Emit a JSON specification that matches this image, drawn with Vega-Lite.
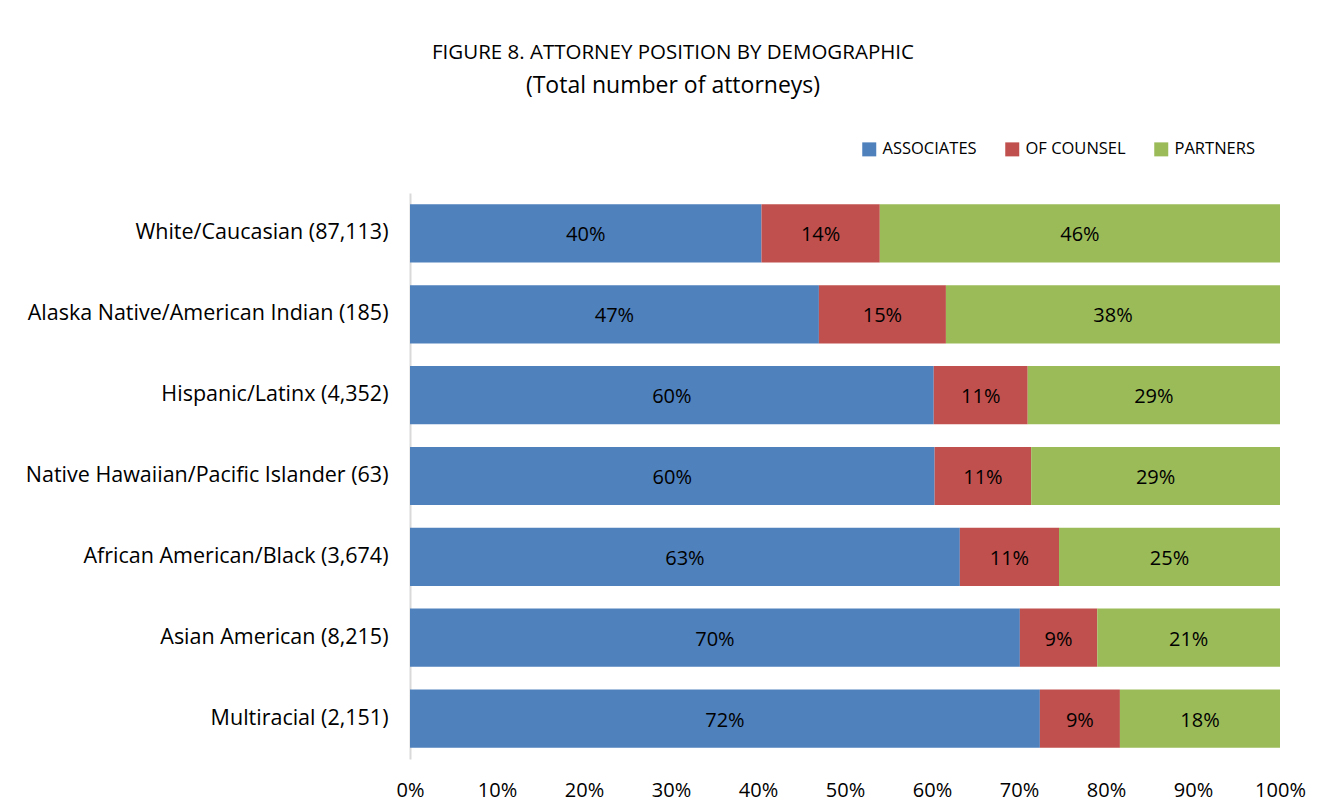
{
  "$schema": "https://vega.github.io/schema/vega-lite/v6.json",
  "width": 870,
  "height": 566,
  "autosize": {"type": "none"},
  "padding": {"left": 410, "top": 193, "right": 45, "bottom": 52},
  "background": "white",
  "title": {
    "text": "FIGURE 8. ATTORNEY POSITION BY DEMOGRAPHIC",
    "subtitle": "(Total number of attorneys)",
    "anchor": "middle",
    "dx": -172,
    "offset": 43,
    "font": "Open Sans",
    "fontSize": 20.5,
    "fontWeight": "normal",
    "color": "black",
    "subtitleFont": "Open Sans",
    "subtitleFontSize": 23,
    "subtitleColor": "black",
    "subtitlePadding": 12
  },
  "config": {
    "view": {"stroke": null},
    "font": "Open Sans",
    "legend": {"labelFont": "Open Sans"},
    "axis": {"labelFont": "Open Sans"}
  },
  "data": {
    "values": [
      {"group": "White/Caucasian (87,113)", "position": "Associates", "share": 0.404},
      {"group": "White/Caucasian (87,113)", "position": "Of Counsel", "share": 0.136},
      {"group": "White/Caucasian (87,113)", "position": "Partners", "share": 0.460},
      {"group": "Alaska Native/American Indian (185)", "position": "Associates", "share": 0.470},
      {"group": "Alaska Native/American Indian (185)", "position": "Of Counsel", "share": 0.146},
      {"group": "Alaska Native/American Indian (185)", "position": "Partners", "share": 0.384},
      {"group": "Hispanic/Latinx (4,352)", "position": "Associates", "share": 0.602},
      {"group": "Hispanic/Latinx (4,352)", "position": "Of Counsel", "share": 0.108},
      {"group": "Hispanic/Latinx (4,352)", "position": "Partners", "share": 0.290},
      {"group": "Native Hawaiian/Pacific Islander (63)", "position": "Associates", "share": 0.603},
      {"group": "Native Hawaiian/Pacific Islander (63)", "position": "Of Counsel", "share": 0.111},
      {"group": "Native Hawaiian/Pacific Islander (63)", "position": "Partners", "share": 0.286},
      {"group": "African American/Black (3,674)", "position": "Associates", "share": 0.632},
      {"group": "African American/Black (3,674)", "position": "Of Counsel", "share": 0.114},
      {"group": "African American/Black (3,674)", "position": "Partners", "share": 0.254},
      {"group": "Asian American (8,215)", "position": "Associates", "share": 0.701},
      {"group": "Asian American (8,215)", "position": "Of Counsel", "share": 0.089},
      {"group": "Asian American (8,215)", "position": "Partners", "share": 0.210},
      {"group": "Multiracial (2,151)", "position": "Associates", "share": 0.724},
      {"group": "Multiracial (2,151)", "position": "Of Counsel", "share": 0.092},
      {"group": "Multiracial (2,151)", "position": "Partners", "share": 0.184}
    ]
  },
  "transform": [
    {"stack": "share", "groupby": ["group"], "sort": [{"field": "position", "order": "ascending"}], "as": ["x0", "x1"]},
    {"calculate": "(datum.x0 + datum.x1) / 2", "as": "mid"}
  ],
  "encoding": {
    "y": {
      "field": "group",
      "type": "nominal",
      "sort": null,
      "scale": {"paddingInner": 0.28, "paddingOuter": 0.14},
      "axis": {
        "title": null,
        "domainColor": "#D9D9D9",
        "domainWidth": 2,
        "ticks": false,
        "grid": false,
        "labelFontSize": 21.5,
        "labelColor": "black",
        "labelPadding": 22,
        "labelLimit": 420
      }
    }
  },
  "layer": [
    {
      "mark": {"type": "bar"},
      "encoding": {
        "x": {
          "field": "x0",
          "type": "quantitative",
          "scale": {"domain": [0, 1], "nice": false},
          "axis": {
            "title": null,
            "format": ".0%",
            "values": [0, 0.1, 0.2, 0.3, 0.4, 0.5, 0.6, 0.7, 0.8, 0.9, 1],
            "domain": false,
            "ticks": false,
            "grid": false,
            "labelFontSize": 20,
            "labelColor": "black",
            "labelPadding": 21,
            "labelFlush": false
          }
        },
        "x2": {"field": "x1"},
        "color": {
          "field": "position",
          "type": "nominal",
          "scale": {
            "domain": ["Associates", "Of Counsel", "Partners"],
            "range": ["#4F81BD", "#C0504D", "#9BBB59"]
          },
          "legend": {
            "title": null,
            "orient": "none",
            "legendX": 451,
            "legendY": -52,
            "direction": "horizontal",
            "symbolType": "square",
            "symbolSize": 196,
            "symbolStrokeWidth": 0,
            "labelFontSize": 16.5,
            "labelColor": "black",
            "labelExpr": "upper(datum.label)",
            "columnPadding": 27,
            "labelOffset": 5
          }
        }
      }
    },
    {
      "mark": {"type": "text", "fontSize": 20, "color": "black", "dy": 2},
      "encoding": {
        "x": {"field": "mid", "type": "quantitative"},
        "text": {"field": "share", "type": "quantitative", "format": ".0%"}
      }
    }
  ]
}
